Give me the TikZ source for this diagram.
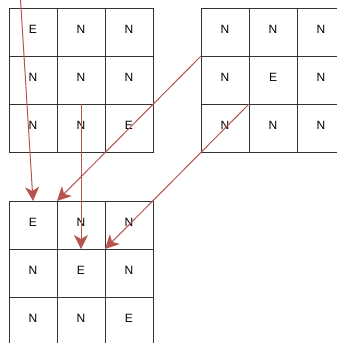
\documentclass[tikz,border=0pt]{standalone}
\usepackage{fontspec}
\setmainfont{Liberation Sans}
\usetikzlibrary{arrows.meta}
\definecolor{arr}{HTML}{B85450}
\begin{document}
\begin{tikzpicture}[x=1pt,y=-1pt,
  cell/.style={draw=black!80, line width=1pt, minimum size=48pt, inner sep=0pt, outer sep=0pt,
    font=\fontsize{12}{14}\selectfont, text height=8.6pt, text depth=5pt},
  link/.style={draw=arr, line width=1pt, -{Stealth[length=14pt,width=14pt,inset=4pt]}}]
\useasboundingbox (0,0) rectangle (337,343);
% top-left grid
\foreach \i/\j/\t in {1/1/E,1/2/N,1/3/N,2/1/N,2/2/N,2/3/N,3/1/N,3/2/N,3/3/E}
  \node[cell] (a\i\j) at ({33+48*(\j-1)},{32+48*(\i-1)}) {\t};
% top-right grid
\foreach \i/\j/\t in {1/1/N,1/2/N,1/3/N,2/1/N,2/2/E,2/3/N,3/1/N,3/2/N,3/3/N}
  \node[cell] (c\i\j) at ({225+48*(\j-1)},{32+48*(\i-1)}) {\t};
% bottom grid
\foreach \i/\j/\t in {1/1/E,1/2/N,1/3/N,2/1/N,2/2/E,2/3/N,3/1/N,3/2/N,3/3/E}
  \node[cell] (b\i\j) at ({33+48*(\j-1)},{225+48*(\i-1)}) {\t};
% connectors
\coordinate (s1) at (20.3,-4);
\draw[link] (s1) -- (b11.north);
\draw[link] (a32.north) -- (b22.north);
\draw[link] (c11.south west) -- (b12.north west);
\draw[link] (c22.south west) -- (b23.north west);
\end{tikzpicture}
\end{document}
